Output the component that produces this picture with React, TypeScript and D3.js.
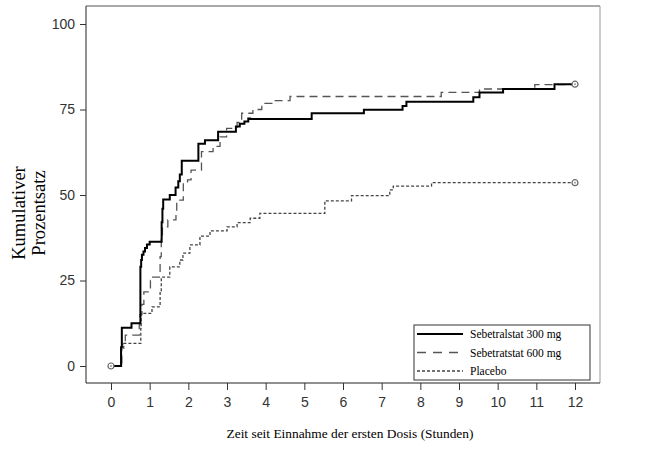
import * as d3 from "d3";
import { useEffect, useRef } from "react";

type StepPoint = { t: number; v: number };

// step events: at time t (hours) the cumulative percent becomes v
const times300 = [0, 0.26, 0.28, 0.53, 0.76, 0.78, 0.8, 0.84, 0.88, 0.93, 1.0, 1.31, 1.33, 1.35, 1.52, 1.67, 1.74, 1.78, 1.83, 2.26, 2.43, 2.77, 3.23, 3.33, 3.45, 3.55, 3.6, 5.19, 6.54, 7.54, 7.64, 9.37, 9.53, 10.14, 11.47, 12];
const values300 = [0, 5.5, 11.2, 12.5, 29, 31, 32.5, 33.5, 34.5, 35.5, 36.3, 42, 46, 48.7, 50, 52.2, 54, 56, 60, 65, 66, 68.5, 70, 70.8, 71.5, 72.4, 72.2, 73.9, 74.9, 76, 77.3, 78.6, 80, 81, 82.4, 82.4];

const times600 = [0, 0.28, 0.37, 0.73, 0.75, 0.8, 0.85, 1.02, 1.05, 1.27, 1.3, 1.33, 1.47, 1.68, 1.7, 1.87, 1.98, 2.07, 2.34, 2.64, 2.82, 2.99, 3.26, 3.38, 3.67, 3.9, 4.16, 4.63, 8.54, 9.53, 10.96, 12];
const values600 = [0, 6.3, 9, 12, 15, 18, 21.7, 25, 26, 32, 37, 40.7, 42.7, 44.6, 48.5, 53.5, 54.4, 57.3, 62.7, 64.2, 67, 69.5, 71.2, 73.9, 75, 76.8, 77.6, 78.8, 80, 81, 82.3, 82.4];

const timesPlacebo = [0, 0.27, 0.33, 0.77, 0.78, 1.06, 1.27, 1.3, 1.52, 1.78, 1.86, 2.04, 2.3, 2.56, 3.0, 3.26, 3.6, 3.85, 5.53, 6.22, 7.21, 7.3, 8.29, 12];
const valuesPlacebo = [0, 5, 6.6, 11, 15.4, 17.3, 22, 26, 29, 31, 33, 35.4, 38, 39.5, 40.7, 41.9, 43.2, 44.6, 48.3, 49.8, 51.5, 52.6, 53.6, 53.6];

const seriesLabels = ["Sebetralstat 300 mg", "Sebetratstat 600 mg", "Placebo"];
const xTicks = [0, 1, 2, 3, 4, 5, 6, 7, 8, 9, 10, 11, 12];
const yTicks = [0, 25, 50, 75, 100];

const toPoints = (ts: number[], vs: number[]): StepPoint[] => ts.map((t, i) => ({ t, v: vs[i] }));

const App = () => {
    const ref = useRef<SVGSVGElement>(null);

    const width = 648;
    const height = 456;
    const frameLeft = 86;
    const frameRight = 600;
    const frameTop = 6;
    const frameBottom = 383;

    useEffect(() => {
        const svg = d3.select(ref.current);
        svg.selectAll("*").remove();

        const x = d3.scaleLinear().domain([0, 12]).range([111, 575]);
        const y = d3.scaleLinear().domain([0, 100]).range([366, 24]);

        const tickFont = "'Liberation Sans', Arial, sans-serif";
        const serifFont = "'Liberation Serif', 'Times New Roman', serif";

        // frame
        svg.append("line").attr("x1", frameLeft).attr("x2", frameRight).attr("y1", frameTop).attr("y2", frameTop)
            .attr("stroke", "#555");
        svg.append("line").attr("x1", frameRight).attr("x2", frameRight).attr("y1", frameTop).attr("y2", frameBottom)
            .attr("stroke", "#999");

        // y axis
        svg.append("g")
            .attr("transform", `translate(${frameLeft},0)`)
            .call(d3.axisLeft(y).tickValues(yTicks).tickSize(6).tickPadding(5).tickSizeOuter(0))
            .call(g => g.select(".domain").attr("d", `M0,${frameTop}V${frameBottom}`).attr("stroke", "#222"))
            .call(g => g.selectAll(".tick line").attr("stroke", "#333"))
            .call(g => g.selectAll(".tick text")
                .attr("font-family", tickFont).attr("font-size", 14).attr("fill", "#333"));

        // x axis
        svg.append("g")
            .attr("transform", `translate(0,${frameBottom})`)
            .call(d3.axisBottom(x).tickValues(xTicks).tickFormat(d3.format("d")).tickSize(7).tickPadding(7).tickSizeOuter(0))
            .call(g => g.select(".domain").attr("d", `M${frameLeft},0H${frameRight}`).attr("stroke", "#222"))
            .call(g => g.selectAll(".tick line").attr("stroke", "#333"))
            .call(g => g.selectAll(".tick text")
                .attr("font-family", tickFont).attr("font-size", 14).attr("fill", "#333"));

        // axis titles
        svg.append("text")
            .attr("x", 350).attr("y", 438)
            .attr("text-anchor", "middle")
            .attr("font-family", serifFont).attr("font-size", 13.4).attr("fill", "#000")
            .text("Zeit seit Einnahme der ersten Dosis (Stunden)");

        const yTitle = svg.append("text")
            .attr("transform", "translate(25,213) rotate(-90)")
            .attr("text-anchor", "middle")
            .attr("font-family", serifFont).attr("font-size", 18.5).attr("fill", "#000");
        yTitle.append("tspan").attr("x", 0).attr("dy", 0).text("Kumulativer");
        yTitle.append("tspan").attr("x", 0).attr("dy", 20).text("Prozentsatz");

        const line = d3.line<StepPoint>()
            .x(d => x(d.t))
            .y(d => y(d.v))
            .curve(d3.curveStepAfter);

        const series = [
            { data: toPoints(timesPlacebo, valuesPlacebo), stroke: "#444", width: 1.3, dash: "3 2" },
            { data: toPoints(times600, values600), stroke: "#555", width: 1.3, dash: "8 5" },
            { data: toPoints(times300, values300), stroke: "#000", width: 2, dash: null },
        ];

        series.forEach(s => {
            svg.append("path")
                .datum(s.data)
                .attr("d", line)
                .attr("fill", "none")
                .attr("stroke", s.stroke)
                .attr("stroke-width", s.width)
                .attr("stroke-dasharray", s.dash);
        });

        // end markers
        const markers = [
            { t: 0, v: 0 },
            { t: 12, v: values300[values300.length - 1] },
            { t: 12, v: valuesPlacebo[valuesPlacebo.length - 1] },
        ];
        const markerG = svg.append("g")
            .selectAll("g")
            .data(markers)
            .join("g")
            .attr("transform", d => `translate(${x(d.t)},${y(d.v)})`);
        markerG.append("circle")
            .attr("r", 3)
            .attr("fill", "white")
            .attr("stroke", "#666")
            .attr("stroke-width", 1.2);
        markerG.append("circle")
            .attr("r", 0.9)
            .attr("fill", "#888");

        // legend
        const legend = svg.append("g").attr("transform", "translate(414,325)");
        legend.append("rect")
            .attr("width", 176).attr("height", 55)
            .attr("fill", "white").attr("stroke", "#333");
        seriesLabels.forEach((label, i) => {
            const s = series[2 - i];
            const ly = 9 + i * 18.5;
            legend.append("line")
                .attr("x1", 3).attr("x2", 49).attr("y1", ly).attr("y2", ly)
                .attr("stroke", s.stroke)
                .attr("stroke-width", s.width)
                .attr("stroke-dasharray", i === 1 ? "9 7" : s.dash);
            legend.append("text")
                .attr("x", 56).attr("y", ly + 4)
                .attr("font-family", serifFont).attr("font-size", 11.5).attr("fill", "#000")
                .text(label);
        });
    }, []);

    return (
        <svg ref={ref} width={width} height={height}
            style={{ position: "absolute", left: 0, top: 0, background: "white" }} />
    );
};

export default App;
